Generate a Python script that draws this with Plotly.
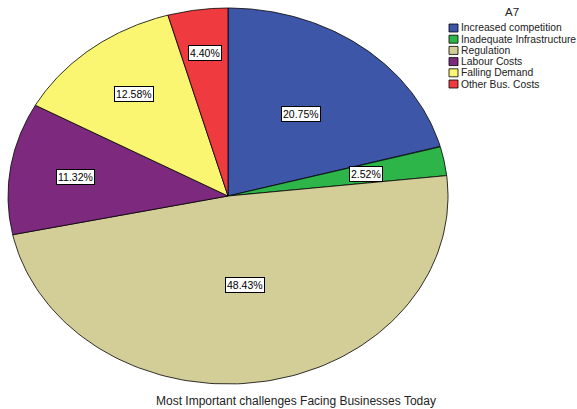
import numpy as np
import plotly.graph_objects as go

# data
categories = ['Increased competition', 'Inadequate Infrastructure', 'Regulation',
              'Labour Costs', 'Falling Demand', 'Other Bus. Costs']
percents = [20.75, 2.52, 48.43, 11.32, 12.58, 4.40]
legend_title = 'A7'
chart_title = 'Most Important challenges Facing Businesses Today'

# style
colors = ['#3D56A8', '#2DB54A', '#D3CD98', '#7D2A7E', '#FAF672', '#EF3B3F']
label_r = [0.55, 0.64, 0.48, 0.7, 0.69, 0.77]  # label distance from centre (fraction of radius)
W, H = 577, 409
cx, cy, rx, ry = 228, 196, 220, 188  # ellipse in pixels
font = 'Liberation Sans, Arial, sans-serif'

fig = go.Figure()

# wedges of a stretched (elliptical) pie, clockwise from 12 o'clock
start = 0.0
for i, (cat, p) in enumerate(zip(categories, percents)):
    a0 = start / 100 * 2 * np.pi
    a1 = (start + p) / 100 * 2 * np.pi
    t = np.linspace(a0, a1, 120)
    xs = np.concatenate([[0], np.sin(t), [0]])
    ys = np.concatenate([[0], np.cos(t), [0]])
    fig.add_trace(go.Scatter(x=xs, y=ys, mode='lines', fill='toself',
                             fillcolor=colors[i], line=dict(color='black', width=0.8),
                             name=cat, hoverinfo='name', showlegend=False))
    am = (a0 + a1) / 2
    fig.add_annotation(x=label_r[i] * np.sin(am), y=label_r[i] * np.cos(am),
                       text=f'{p:.2f}%', showarrow=False,
                       font=dict(family=font, size=10.5, color='black'),
                       bgcolor='white', bordercolor='black', borderwidth=1, borderpad=1)
    start += p

# hand-made legend (compact, SPSS style)
fig.add_annotation(x=512 / W, y=1 - 12 / H, xref='paper', yref='paper', text=legend_title,
                   showarrow=False, xanchor='center', yanchor='middle',
                   font=dict(family=font, size=11.5, color='#222'))
for i, cat in enumerate(categories):
    ytop = 24 + i * 11.2
    fig.add_shape(type='rect', xref='paper', yref='paper',
                  x0=449 / W, x1=458 / W, y0=1 - ytop / H, y1=1 - (ytop + 8) / H,
                  fillcolor=colors[i], line=dict(color='black', width=0.8))
    fig.add_annotation(x=459 / W, y=1 - (ytop + 4) / H, xref='paper', yref='paper',
                       text=cat, showarrow=False, xanchor='left', yanchor='middle',
                       font=dict(family=font, size=10.3, color='#222'))

fig.add_annotation(x=296 / W, y=1 - 401 / H, xref='paper', yref='paper', text=chart_title,
                   showarrow=False, xanchor='center', yanchor='middle',
                   font=dict(family=font, size=12, color='#222'))

fig.update_xaxes(range=[-cx / rx, (W - cx) / rx], visible=False, fixedrange=True)
fig.update_yaxes(range=[-(H - cy) / ry, cy / ry], visible=False, fixedrange=True)
fig.update_layout(width=W, height=H, margin=dict(l=0, r=0, t=0, b=0),
                  paper_bgcolor='white', plot_bgcolor='white', showlegend=False)

fig.write_html('out.html', config={'displayModeBar': False},
               post_script="document.body.style.margin='0';")
